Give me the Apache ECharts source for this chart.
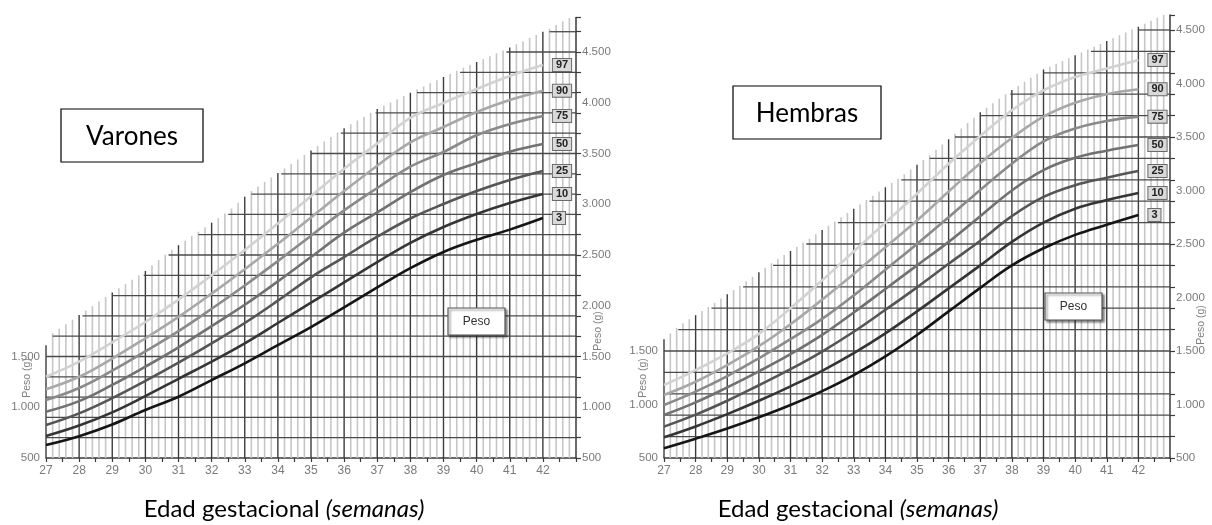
<!DOCTYPE html>
<html><head><meta charset="utf-8">
<script src="https://cdn.jsdelivr.net/npm/echarts@6/dist/echarts.min.js"></script>
<style>html,body{margin:0;padding:0;background:#fff}#c{width:1212px;height:525px}</style>
</head><body><div id="c"></div>
<script>
// ---------- DATA ----------
const weeks = [27,28,29,30,31,32,33,34,35,36,37,38,39,40,41,42];
const percentileNames = ['3','10','25','50','75','90','97'];

// Varones (g)
const boysP3  = [628, 715, 830, 973,1104,1268,1433,1613,1790,1985,2180,2370,2530,2650,2750,2864];
const boysP10 = [717, 820, 950,1110,1280,1450,1630,1830,2030,2230,2430,2620,2776,2904,3012,3101];
const boysP25 = [825, 940,1090,1260,1440,1630,1830,2050,2280,2480,2680,2860,3002,3130,3239,3328];
const boysP50 = [956,1060,1220,1400,1590,1800,2010,2240,2480,2720,2920,3120,3288,3406,3518,3594];
const boysP75 = [1071,1190,1360,1550,1750,1970,2200,2440,2690,2940,3160,3370,3515,3680,3790,3870];
const boysP90 = [1177,1300,1480,1680,1890,2120,2360,2610,2870,3130,3380,3610,3761,3909,4027,4119];
const boysP97 = [1301,1450,1640,1840,2060,2300,2550,2810,3080,3350,3600,3850,3998,4135,4264,4372];

// Hembras (g)
const girlsP3  = [591, 680, 775, 880, 995,1125,1275,1450,1650,1870,2090,2300,2460,2585,2680,2771];
const girlsP10 = [693, 795, 910,1035,1170,1315,1480,1665,1870,2085,2300,2520,2700,2830,2910,2977];
const girlsP25 = [793, 905,1035,1180,1330,1495,1680,1885,2095,2315,2530,2760,2940,3050,3120,3182];
const girlsP50 = [902,1020,1160,1310,1470,1650,1860,2080,2300,2520,2760,3000,3190,3305,3372,3425];
const girlsP75 = [995,1120,1266,1432,1610,1800,2020,2260,2500,2750,3005,3250,3460,3580,3650,3690];
const girlsP90 = [1089,1213,1369,1545,1750,1980,2220,2470,2720,2990,3255,3490,3690,3820,3900,3946];
const girlsP97 = [1182,1322,1478,1660,1900,2160,2430,2700,2970,3250,3510,3750,3935,4060,4140,4220];

// grid paper envelope (week, weight) under which the paper grid is printed
const boysEnvWeek   = [27,27.2,28.1,29.0,29.95,30.7,31.6,32.5,33.2,34.1,35.0,35.9,36.95,38.2,39.5,40.9,42.2,43];
const boysEnvWeight = [1580,1700,1900,2100,2300,2500,2700,2900,3100,3300,3500,3700,3900,4100,4300,4500,4700,4840];
const girlsEnvWeek   = [27,27.45,28.5,29.5,30.45,31.5,32.5,33.5,34.5,35.4,36.2,37.0,37.95,39.0,40.5,42.0,43];
const girlsEnvWeight = [1580,1700,1900,2100,2300,2500,2700,2900,3100,3300,3500,3700,3900,4100,4300,4500,4640];

const xTickLabels = [27,28,29,30,31,32,33,34,35,36,37,38,39,40,41,42];
const yRightLabels = [500,1000,1500,2000,2500,3000,3500,4000,4500];
const yLeftLabels = [500,1000,1500];
const panelTitles = ['Varones','Hembras'];

// ---------- HELPERS ----------
function interp(xs, ys, x){
  if (x <= xs[0]) return ys[0] + (x - xs[0]) * (ys[1]-ys[0])/(xs[1]-xs[0]);
  for (let i=1;i<xs.length;i++){
    if (x <= xs[i]) return ys[i-1] + (x-xs[i-1])*(ys[i]-ys[i-1])/(xs[i]-xs[i-1]);
  }
  const n = xs.length;
  return ys[n-1] + (x-xs[n-1])*(ys[n-1]-ys[n-2])/(xs[n-1]-xs[n-2]);
}
function fmt(v){
  if (v >= 1000) return Math.floor(v/1000) + '.' + String(v%1000).padStart(3,'0');
  return String(v);
}
function gridLines(envW, envG, yMax){
  const out = [];
  for (let i=0;i<80;i++){
    const w = 27 + i/5;
    const top = Math.min(interp(envW, envG, w) + 30, yMax);
    out.push([w, 500, w, top, i%5===0 ? 1 : 0]);
  }
  for (let g=700; g<=yMax; g+=200){
    let s = interp(envG, envW, g);
    if (s < 27) s = 27;
    if (s >= 43) continue;
    out.push([s, g, 43, g, 2]);
  }
  return out;
}

const panels = [
  {left:46, right:636, top:17.5, bottom:67, yMax:4840, env:[boysEnvWeek,boysEnvWeight],
   data:[boysP3,boysP10,boysP25,boysP50,boysP75,boysP90,boysP97]},
  {left:664, right:42, top:15, bottom:67, yMax:4640, env:[girlsEnvWeek,girlsEnvWeight],
   data:[girlsP3,girlsP10,girlsP25,girlsP50,girlsP75,girlsP90,girlsP97]}
];
const lineColors = ['#151515','#353535','#555555','#717171','#8a8a8a','#a8a8a8','#d2d2d2'];
const axisFont = 'Liberation Sans, Arial, sans-serif';

const grid=[], xAxis=[], yAxis=[], series=[];
panels.forEach((p, pi)=>{
  grid.push({left:p.left, right:p.right, top:p.top, bottom:p.bottom});
  xAxis.push({gridIndex:pi, type:'value', min:27, max:43, interval:0.5,
    axisLine:{show:true, lineStyle:{color:'#3a3a3a', width:1.5}},
    axisTick:{show:true, length:4, lineStyle:{color:'#3a3a3a', width:1.2}},
    splitLine:{show:false},
    axisLabel:{color:'#7a7a7a', fontSize:12, fontFamily:axisFont, margin:7,
      formatter:v => xTickLabels.indexOf(v) >= 0 ? String(v) : ''}});
  yAxis.push({gridIndex:pi, type:'value', min:500, max:p.yMax, interval:100, position:'right',
    axisLine:{show:false}, axisTick:{show:false}, splitLine:{show:false},
    axisLabel:{color:'#7a7a7a', fontSize:11.5, fontFamily:axisFont, margin:6,
      formatter:v => yRightLabels.indexOf(v) >= 0 ? fmt(v) : ''}});
  yAxis.push({gridIndex:pi, type:'value', min:500, max:p.yMax, interval:200, position:'right',
    axisLine:{show:true, lineStyle:{color:'#3a3a3a', width:1.5}},
    axisTick:{show:true, length:5, lineStyle:{color:'#3a3a3a', width:1.2}},
    splitLine:{show:false}, axisLabel:{show:false}});
  yAxis.push({gridIndex:pi, type:'value', min:500, max:p.yMax, interval:500, position:'left',
    axisLine:{show:false}, axisTick:{show:false}, splitLine:{show:false},
    axisLabel:{color:'#7a7a7a', fontSize:11.5, fontFamily:axisFont, margin:6,
      formatter:v => yLeftLabels.indexOf(v) >= 0 ? fmt(v) : ''}});

  series.push({type:'custom', xAxisIndex:pi, yAxisIndex:pi*3, z:1, silent:true,
    encode:{x:[0,2], y:[1,3]},
    data: gridLines(p.env[0], p.env[1], p.yMax),
    renderItem:(params, api)=>{
      const a = api.coord([api.value(0), api.value(1)]);
      const b = api.coord([api.value(2), api.value(3)]);
      const k = api.value(4);
      const style = k===0 ? {stroke:'#c6c6c6', lineWidth:1.6}
                  : k===1 ? {stroke:'#3c3c3c', lineWidth:1.4}
                  : {stroke:'#4a4a4a', lineWidth:1.3};
      return {type:'line', shape:{x1:a[0], y1:a[1], x2:b[0], y2:b[1]}, style:style};
    }});

  p.data.forEach((arr, si)=>{
    series.push({type:'line', name:percentileNames[si], xAxisIndex:pi, yAxisIndex:pi*3, z:3,
      smooth:0.4, symbol:'none', silent:true,
      lineStyle:{color:lineColors[si], width:2.6},
      data: weeks.map((w,i)=>[w, arr[i]]),
      endLabel:{show:true, formatter:'{a}', distance:10, color:'#222', fontSize:11,
        fontWeight:'bold', fontFamily:axisFont, backgroundColor:'#d9d9d9',
        borderColor:'#6a6a6a', borderWidth:1, padding:[1,3,0,3], lineHeight:11}
    });
  });
});

function titleBox(x, y, w, h, text){
  return {type:'group', z:100, children:[
    {type:'rect', z:100, shape:{x:x, y:y, width:w, height:h}, style:{fill:'#fff', stroke:'#000', lineWidth:1.2}},
    {type:'text', z:101, x:x+w/2, y:y+h/2+1, style:{text:text, font:'26px Lato, "Open Sans", sans-serif', fill:'#000', align:'center', verticalAlign:'middle'}}
  ]};
}
function pesoBox(x, y){
  return {type:'group', z:100, children:[
    {type:'rect', z:100, shape:{x:x, y:y, width:57, height:27},
      style:{fill:'#fff', stroke:'#555', lineWidth:1.2, shadowBlur:2, shadowOffsetX:2, shadowOffsetY:2, shadowColor:'rgba(0,0,0,0.45)'}},
    {type:'text', z:101, x:x+28.5, y:y+14, style:{text:'Peso', font:'12px "Liberation Sans", Arial, sans-serif', fill:'#333', align:'center', verticalAlign:'middle'}}
  ]};
}
function pesoAxisName(x, y){
  return {type:'text', z:100, x:x, y:y, rotation:Math.PI/2,
    style:{text:'Peso (g)', font:'10.5px "Liberation Sans", Arial, sans-serif', fill:'#808080', align:'center', verticalAlign:'middle'}};
}
function caption(x, y){
  return {type:'text', z:100, x:x, y:y, style:{
    text:'{n|Edad gestacional }{i|(semanas)}', align:'center', verticalAlign:'middle',
    rich:{n:{font:'24px Lato, "Open Sans", sans-serif', fill:'#000'},
          i:{font:'italic 24px Lato, "Open Sans", sans-serif', fill:'#000'}}}};
}

const graphic = [
  titleBox(61, 109, 142, 53, panelTitles[0]),
  titleBox(733, 86, 148, 53, panelTitles[1]),
  pesoBox(448, 308),
  pesoBox(1045, 293),
  pesoAxisName(27, 378),
  pesoAxisName(598, 331),
  pesoAxisName(643, 378),
  pesoAxisName(1201, 325),
  caption(284, 509),
  caption(858, 509)
];

const chart = echarts.init(document.getElementById('c'), null, {renderer:'canvas'});
chart.setOption({animation:false, backgroundColor:'#fff', grid, xAxis, yAxis, series, graphic});
</script>
</body></html>
